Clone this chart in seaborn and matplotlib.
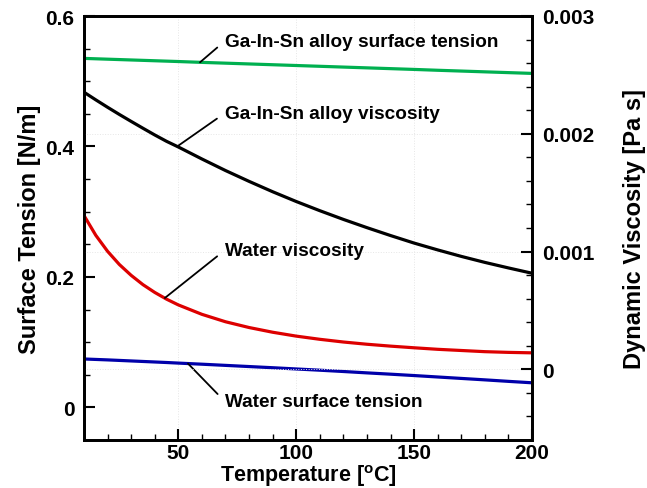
import numpy as np
import pandas as pd
import matplotlib
matplotlib.use("Agg")
import matplotlib.pyplot as plt
import seaborn as sns
from matplotlib.ticker import MultipleLocator

# ---- data ----
temperature = [10, 15, 20, 25, 30, 35, 40, 45, 50, 60, 70, 80, 90, 100,
               110, 120, 130, 140, 150, 160, 170, 180, 190, 200]
alloy_surface_tension = [0.5350, 0.5344, 0.5338, 0.5332, 0.5326, 0.5320, 0.5314, 0.5308,
                         0.5302, 0.5289, 0.5277, 0.5265, 0.5253, 0.5241, 0.5229, 0.5217,
                         0.5205, 0.5193, 0.5181, 0.5168, 0.5156, 0.5144, 0.5132, 0.5120]
water_surface_tension = [0.0742, 0.0735, 0.0728, 0.0720, 0.0712, 0.0704, 0.0696, 0.0688,
                         0.0679, 0.0662, 0.0644, 0.0626, 0.0608, 0.0589, 0.0570, 0.0550,
                         0.0529, 0.0509, 0.0488, 0.0466, 0.0444, 0.0422, 0.0399, 0.0377]
alloy_viscosity = [2.353e-3, 2.288e-3, 2.225e-3, 2.164e-3, 2.105e-3, 2.047e-3, 1.990e-3, 1.936e-3,
                   1.888e-3, 1.786e-3, 1.688e-3, 1.596e-3, 1.508e-3, 1.425e-3, 1.347e-3, 1.273e-3,
                   1.203e-3, 1.136e-3, 1.072e-3, 1.014e-3, 0.959e-3, 0.908e-3, 0.861e-3, 0.816e-3]
water_viscosity = [1.306e-3, 1.138e-3, 1.002e-3, 0.890e-3, 0.798e-3, 0.719e-3, 0.653e-3, 0.596e-3,
                   0.547e-3, 0.467e-3, 0.404e-3, 0.355e-3, 0.315e-3, 0.282e-3, 0.255e-3, 0.232e-3,
                   0.213e-3, 0.197e-3, 0.183e-3, 0.170e-3, 0.160e-3, 0.150e-3, 0.144e-3, 0.140e-3]

labels = ["Ga-In-Sn alloy surface tension", "Ga-In-Sn alloy viscosity",
          "Water viscosity", "Water surface tension"]

sns.set_style("ticks")
plt.rcParams["font.family"] = ["Liberation Sans", "DejaVu Sans"]
plt.rcParams["font.weight"] = "bold"
plt.rcParams["text.color"] = "black"
plt.rcParams["axes.labelcolor"] = "black"
plt.rcParams["xtick.color"] = "black"
plt.rcParams["ytick.color"] = "black"
plt.rcParams["mathtext.fontset"] = "custom"
plt.rcParams["mathtext.rm"] = "Liberation Sans:bold"
plt.rcParams["mathtext.bf"] = "Liberation Sans:bold"
plt.rcParams["mathtext.default"] = "bf"

df = pd.DataFrame({
    "T": temperature,
    "st_alloy": alloy_surface_tension,
    "st_water": water_surface_tension,
    "mu_alloy": alloy_viscosity,
    "mu_water": water_viscosity,
})

fig = plt.figure(figsize=(6.47, 4.89), dpi=100)
ax = fig.add_axes([84/647, 1-441/489, (532-84)/647, (441-17)/489])
ax2 = ax.twinx()

lw = 2.3
grid_kw = dict(color="#e6e6e6", lw=0.7, ls=":")
ax.set_xlim(10, 200)
ax.set_ylim(-0.05, 0.6)
ax2.set_ylim(-0.0006, 0.003)
for xv in [50, 100, 150]:
    ax.axvline(xv, zorder=0, **grid_kw)
for yv in [0, 0.001, 0.002]:
    ax2.axhline(yv, zorder=0, **grid_kw)

sns.lineplot(data=df, x="T", y="st_alloy", ax=ax, color="#00b050", lw=lw, legend=False)
sns.lineplot(data=df, x="T", y="st_water", ax=ax, color="#0000aa", lw=lw, legend=False)
sns.lineplot(data=df, x="T", y="mu_alloy", ax=ax2, color="#000000", lw=lw, legend=False)
sns.lineplot(data=df, x="T", y="mu_water", ax=ax2, color="#dd0000", lw=lw, legend=False)

ax.set_xlim(10, 200)
ax.set_ylim(-0.05, 0.6)
ax2.set_ylim(-0.0006, 0.003)

tick_fs = 15
ax.xaxis.set_major_locator(MultipleLocator(50))
ax.xaxis.set_minor_locator(MultipleLocator(10))
ax.yaxis.set_major_locator(MultipleLocator(0.2))
ax.yaxis.set_minor_locator(MultipleLocator(0.05))
ax2.yaxis.set_major_locator(MultipleLocator(0.001))
ax2.yaxis.set_minor_locator(MultipleLocator(0.0002))
ax.set_xticks([50, 100, 150, 200])
ax.set_xticklabels(["50", "100", "150", "200"])
ax.set_yticks([0, 0.2, 0.4, 0.6])
ax.set_yticklabels(["0", "0.2", "0.4", "0.6"])
ax2.set_yticks([0, 0.001, 0.002, 0.003])
ax2.set_yticklabels(["0", "0.001", "0.002", "0.003"])

for a in (ax, ax2):
    a.tick_params(which="major", direction="in", length=8, width=1.5, labelsize=tick_fs,
                  color="black", labelcolor="black")
    a.tick_params(which="minor", direction="in", length=4.5, width=1.0, color="black")
    for s in a.spines.values():
        s.set_linewidth(2.0)
        s.set_color("black")
    for lab in a.get_xticklabels() + a.get_yticklabels():
        lab.set_fontweight("bold")
ax.tick_params(axis="x", which="both", top=False, pad=2)
ax.tick_params(axis="y", which="both", right=False, pad=7)
ax2.tick_params(axis="y", which="both", left=False, pad=7)
ax2.tick_params(axis="x", which="both", top=False, bottom=False, labelbottom=False)

ax.set_xlabel(r"Temperature [$^{\mathbf{o}}$C]", fontsize=15.5, fontweight="bold",
              color="black", labelpad=0)
ax.set_ylabel("Surface Tension [N/m]", fontsize=17, fontweight="bold",
              color="black", labelpad=3)
ax2.set_ylabel("Dynamic Viscosity [Pa s]", fontsize=17, fontweight="bold",
               color="black", labelpad=21)

ann_fs = 13.7
arrow = dict(arrowstyle="-", color="black", lw=1.3, shrinkA=4, shrinkB=0, relpos=(0, 0.5))
ax.annotate(labels[0], xy=(59.2, 0.529), xytext=(69.7, 0.5615), textcoords="data",
            fontsize=ann_fs, fontweight="bold", ha="left", va="center", color="black",
            arrowprops=arrow)
ax2.annotate(labels[1], xy=(49.5, 1.892e-3), xytext=(69.7, 2.175e-3), textcoords="data",
             fontsize=ann_fs, fontweight="bold", ha="left", va="center", color="black",
             arrowprops=arrow)
ax2.annotate(labels[2], xy=(44.3, 0.606e-3), xytext=(69.7, 1.011e-3), textcoords="data",
             fontsize=ann_fs, fontweight="bold", ha="left", va="center", color="black",
             arrowprops=arrow)
ax.annotate(labels[3], xy=(54.1, 0.0672), xytext=(69.7, 0.0092), textcoords="data",
            fontsize=ann_fs, fontweight="bold", ha="left", va="center", color="black",
            arrowprops=arrow)

fig.savefig("out.png", dpi=100)
